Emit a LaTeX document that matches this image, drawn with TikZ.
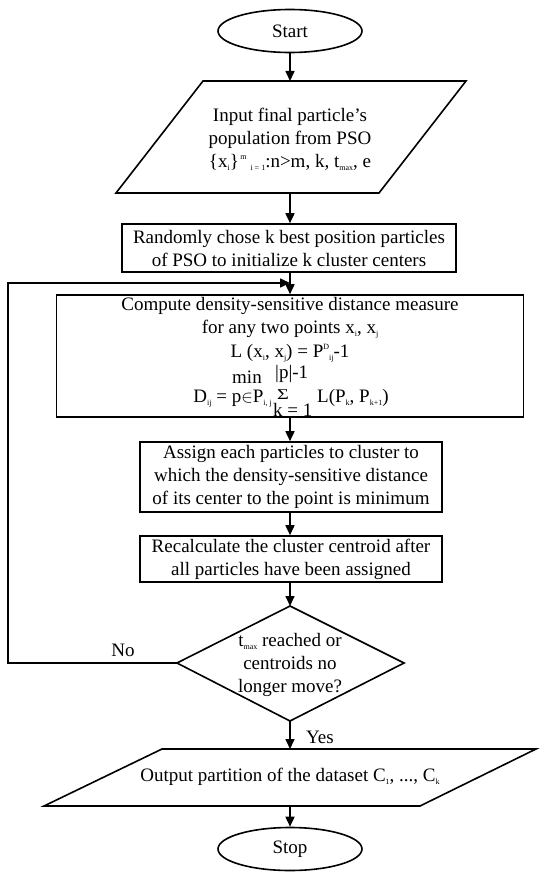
\documentclass[tikz,border=0pt]{standalone}
\usepackage{fontspec}
\setmainfont{Liberation Serif}
\usepackage{graphicx}
\usetikzlibrary{shapes.geometric,arrows.meta}
\newcommand{\lo}[1]{\raisebox{-0.35ex}{\fontsize{8}{8}\selectfont #1}}
\newcommand{\hi}[1]{\raisebox{0.85ex}{\fontsize{8}{8}\selectfont #1}}
\tikzset{
  ln/.style={line width=1.6pt},
  term/.style={draw, ln, ellipse, minimum width=144pt, minimum height=43pt, inner sep=0pt},
  proc/.style={draw, ln, rectangle, inner sep=0pt, align=center},
  txt/.style={inner sep=0pt, align=center},
  arr/.style={ln, -{Triangle[length=10pt,width=9pt]}},
}
\begin{document}
\begin{tikzpicture}[x=1pt,y=-1pt,font=\fontsize{19}{23}\selectfont]
\useasboundingbox (0,0) rectangle (545,875);

% Start
\node[term] (start) at (290,31) {Start};

% Input parallelogram
\draw[ln] (203,81) -- (466,81) -- (379,193) -- (116,193) -- cycle;
\node[txt] (input) at (290,139) {Input final particle's\\population from PSO\\\{x\lo{i}\}\hi{\,m}\lo{\ \ i = 1}:n>m, k, t\lo{max}, e};
\coordinate (inT) at (290,81);
\coordinate (inB) at (290,193);

% Box 2
\node[proc, minimum width=334pt, minimum height=48pt] (init) at (289,248)
  {Randomly chose k best position particles\\of PSO to initialize k cluster centers};

% Box 3
\node[proc, minimum width=467pt, minimum height=122pt] (dist) at (290,356) {};
\node[txt, anchor=base] (d1) at (290,310) {Compute density-sensitive distance measure};
\node[txt, anchor=base] (d2) at (290,333) {for any two points x\lo{i}, x\lo{j}};
\node[txt, anchor=base] (d3) at (290,357) {L (x\lo{i}, x\lo{j}) = P\hi{D}\lo{ij}-1};
\node[txt, anchor=base west] (dmin) at (232,383) {min};
\node[txt, anchor=base west] (dp) at (275,378) {|p|-1};
\node[txt, anchor=base east] (dD) at (272,402) {D\lo{ij} = p$\in$P\lo{i, j}};
\node[txt, anchor=base west] (dsum) at (277,399) {\fontsize{15}{15}\selectfont\scalebox{1.35}[1]{Σ}};
\node[txt, anchor=base west] (dk) at (273,416) {k = 1};
\node[txt, anchor=base west] (dL) at (317,402) {L(P\lo{k}, P\lo{k+1})};

% Box 4
\node[proc, minimum width=302pt, minimum height=70pt] (assign) at (291,477)
  {Assign each particles to cluster to\\which the density-sensitive distance\\of its center to the point is minimum};

% Box 5
\node[proc, minimum width=302pt, minimum height=46pt] (recalc) at (291,559)
  {Recalculate the cluster centroid after\\all particles have been assigned};

% Decision diamond
\draw[ln] (290,606) -- (404,663) -- (290,721) -- (177,663) -- cycle;
\node[txt] (dec) at (290,665) {t\lo{max} reached or\\centroids no\\longer move?};
\coordinate (decT) at (290,606);
\coordinate (decL) at (177,663);
\coordinate (decB) at (290,721);
\coordinate (loopX) at (8,663);
\coordinate (join) at (290,283);

% Output parallelogram
\draw[ln] (162,749) -- (536,749) -- (420,806) -- (44,806) -- cycle;
\node[txt] (output) at (290,777) {Output partition of the dataset C\lo{1}, ..., C\lo{k}};
\coordinate (outT) at (290,749);
\coordinate (outB) at (290,806);

% Stop
\node[term] (stop) at (290,849) {Stop};

% Connectors
\draw[arr] (start.south) -- (inT);
\draw[arr] (inB) -- (init.north -| inB);
\draw[arr] (init.south -| inB) -- (dist.north -| inB);
\draw[arr] (dist.south -| inB) -- (assign.north -| inB);
\draw[arr] (assign.south -| inB) -- (recalc.north -| inB);
\draw[arr] (recalc.south -| inB) -- (decT);
\draw[arr] (decL) -- (loopX) |- (join);
\draw[arr] (decB) -- (outT);
\draw[arr] (outB) -- (stop.north);

\node[txt] (no) at (123,650) {No};
\node[txt] (yes) at (320,737) {Yes};
\end{tikzpicture}
\end{document}
